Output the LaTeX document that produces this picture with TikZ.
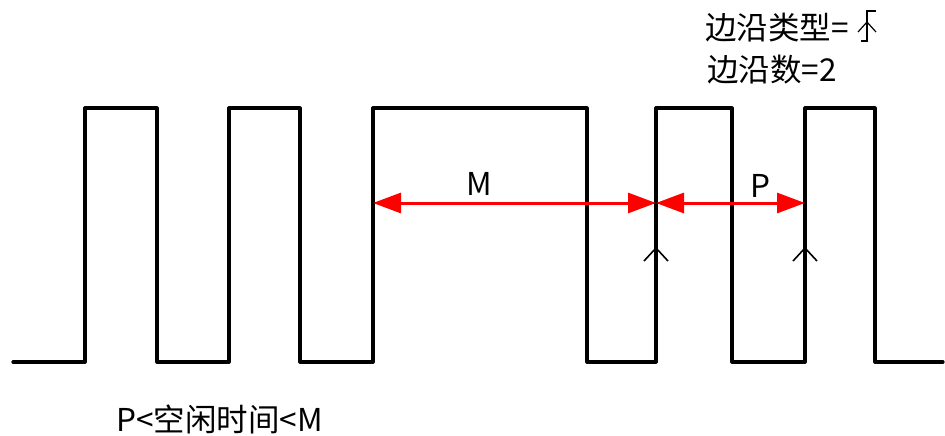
\documentclass[tikz,border=0pt]{standalone}
\usepackage{fontspec}
\setmainfont{Noto Sans CJK SC}
\usetikzlibrary{arrows.meta}
\begin{document}
\begin{tikzpicture}[x=1pt,y=-1pt,
  wave/.style={line width=3.2pt,line join=round,line cap=round},
  meas/.style={red,line width=3pt,{Triangle[length=28pt,width=20pt]}-{Triangle[length=28pt,width=20pt]}},
  chev/.style={line width=1.6pt},
  lbl/.style={font=\fontsize{31.5}{36}\selectfont,inner sep=0pt}]
\useasboundingbox (0,0) rectangle (945,436);
% waveform
\coordinate (s) at (13,362);
\coordinate (e1) at (656,108);
\coordinate (e2) at (805,108);
\coordinate (r3) at (373,203);
\coordinate (m1) at (656,203);
\coordinate (p2) at (805,203);
\draw[wave] (s) -- (85,362) -- (85,108) -- (157,108) -- (157,362) -- (229,362) -- (229,108)
  -- (300,108) -- (300,362) -- (373,362) -- (373,108) -- (587,108) -- (587,362) -- (656,362)
  -- (e1) -- (732,108) -- (732,362) -- (805,362) -- (e2) -- (875,108) -- (875,362) -- (943,362);
% measurements
\draw[meas] (r3) -- (m1);
\draw[meas] (m1) -- (p2);
\node[lbl] (M) at (479,184) {M};
\node[lbl] (P) at (760,186) {P};
% rising-edge chevrons
\draw[chev] (644,261) -- (656,248) -- (668,261);
\draw[chev] (793,261) -- (805,248) -- (817,261);
% texts
\node[lbl,anchor=west] (t1) at (705,28) {边沿类型=};
\node[lbl,anchor=west] (t2) at (707,70) {边沿数=2};
\node[lbl,anchor=west] (t3) at (116,419) {P<空闲时间<M};
% rising edge symbol
\draw[line width=1.2pt] (861,41) -- (867,41) -- (867,11) -- (876,11);
\draw[line width=1.2pt] (858,32) -- (867,22) -- (876,32);
\end{tikzpicture}
\end{document}
